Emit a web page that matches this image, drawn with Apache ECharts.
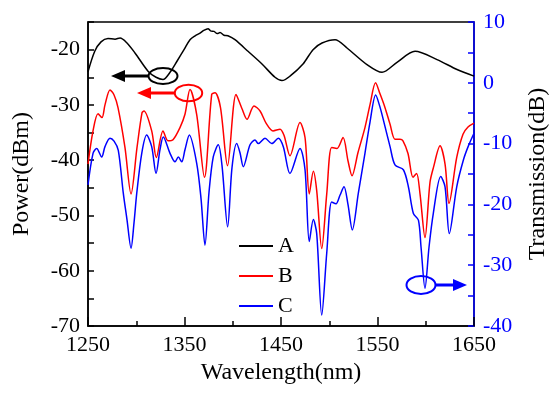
<!DOCTYPE html>
<html>
<head>
<meta charset="utf-8">
<script src="https://cdn.jsdelivr.net/npm/echarts@6/dist/echarts.min.js"></script>
<style>html,body{margin:0;padding:0;background:#fff}#c{width:550px;height:395px}</style>
</head>
<body>
<div id="c"></div>
<script>
var xTickLabels = ['1250','1350','1450','1550','1650'];
var seriesNames = ['A','B','C'];

var aWl  = [1250,1257,1263.5,1270.7,1278,1283.2,1290.4,1298.7,1312.2,1320.5,1327.7,1335,1342.2,1349.5,1355.7,1361,1366.1,1370,1374.4,1377,1380.6,1384,1386.8,1391,1395,1402.3,1415.8,1430.3,1443.8,1451,1459.3,1472.8,1483.2,1492.5,1506,1518.4,1539.1,1554.7,1570.2,1588.9,1611.7,1632.4,1650];
var aPow = [-24.0,-20.3,-18.6,-18.0,-18.1,-17.9,-18.8,-20.6,-23.9,-25.0,-25.4,-24.1,-22.1,-20.0,-18.2,-17.5,-17.0,-16.5,-16.2,-16.6,-16.7,-17.1,-16.9,-17.4,-17.5,-18.2,-20.3,-22.6,-25.0,-25.6,-24.8,-22.6,-20.0,-18.8,-18.2,-19.7,-22.7,-24.1,-22.3,-20.3,-21.8,-23.6,-24.8];

var bWl  = [1250,1255.2,1260.4,1264.5,1267.6,1272.8,1277,1281.1,1288.3,1294.6,1300.8,1306,1308,1316,1320.8,1327.7,1332.9,1338.1,1345.3,1350.5,1355.7,1362.6,1370.7,1378.2,1381.6,1387.3,1394.6,1403.4,1409.6,1414.8,1422,1428.3,1434.5,1441.7,1449,1453.1,1459.3,1469.7,1474.9,1479.3,1483.5,1487,1492.2,1497.4,1502.5,1508,1514.3,1519.4,1523.6,1529.8,1537,1542.2,1548,1552.6,1557.8,1563,1568.1,1573.3,1576.4,1581.6,1586.8,1590.5,1594,1599.2,1604.4,1608,1614.8,1620,1624.1,1632.1,1638.6,1643.8,1650];
var bPow = [-40.7,-34.7,-31.6,-32.3,-30.0,-27.3,-28.2,-30.5,-37.7,-46.1,-37.7,-31.4,-31.1,-34.7,-39.5,-34.7,-36.5,-36.3,-34.1,-31.7,-27.2,-31.7,-43.1,-28.1,-27.8,-30.5,-41.0,-28.1,-30.7,-32.6,-30.2,-31.1,-33.3,-34.7,-34.4,-35.5,-39.2,-33.2,-35.9,-46.1,-42.0,-45.5,-56.0,-46.1,-37.7,-37.9,-35.9,-40.1,-42.8,-38.6,-34.1,-30.0,-26.0,-28.0,-30.5,-33.5,-36.2,-36.2,-36.5,-38.8,-43.1,-42.4,-46.0,-54.0,-44.0,-41.3,-37.4,-40.7,-47.8,-39.5,-35.3,-34.0,-33.3];

var cWl = [1250,1255.2,1259,1264.2,1267.6,1272.8,1277,1281.4,1286.6,1290.4,1294.6,1297.7,1300.5,1305.7,1310.8,1316,1320.5,1324.6,1328,1335,1340.2,1343.6,1347.1,1350.5,1355,1362.6,1367.1,1371.2,1375.4,1379.8,1385,1388.8,1394.7,1399.2,1404.1,1407.5,1410.9,1417.9,1423,1426.5,1433.4,1440.4,1447.2,1452.4,1459.3,1469.7,1474.9,1479.3,1483.5,1487,1492.2,1497.4,1502.5,1507,1511.1,1515.3,1519.4,1523.9,1530.1,1537,1542.2,1548.1,1552.6,1557.8,1563,1568.1,1576.8,1582,1587.2,1592.4,1595.1,1599.2,1603.4,1607.8,1615.5,1620,1624.4,1632.1,1639,1643.9,1650];
var cTr = [-16.8,-11.6,-10.8,-12.2,-10.5,-9.1,-9.6,-11.1,-18.2,-22.5,-27.2,-23.0,-18.2,-11.6,-8.6,-10.5,-14.9,-11.0,-8.9,-11.6,-13.0,-12.2,-13.0,-11.0,-8.6,-13.2,-19.0,-26.7,-18.0,-12.2,-10.2,-13.5,-23.7,-14.0,-10.0,-11.5,-13.8,-10.2,-9.4,-10.0,-9.1,-10.0,-9.1,-10.5,-14.9,-10.8,-14.3,-26.1,-22.5,-24.8,-38.2,-28.0,-19.6,-19.9,-18.5,-17.1,-20.0,-24.2,-18.2,-11.6,-6.5,-2.0,-4.0,-7.2,-10.5,-13.5,-14.3,-17.1,-21.5,-22.6,-27.0,-33.8,-27.0,-21.5,-15.4,-17.1,-24.8,-17.1,-12.7,-10.5,-8.3];

function pairs(xs, ys){ return xs.map(function(x,i){ return [x, ys[i]]; }); }

var FONT = 'Liberation Serif';
var chart = echarts.init(document.getElementById('c'), null, {renderer:'canvas'});
var option = {
  animation: false,
  backgroundColor: '#fff',
  grid: {left: 88, right: 76, top: 22, bottom: 69, outerBoundsMode: 'none', containLabel: false,
         show: true, borderColor: '#000', borderWidth: 1.5, backgroundColor: 'transparent'},
  legend: {
    data: seriesNames.map(function(n){ return {name: n, icon: 'rect'}; }),
    orient: 'vertical', left: 234, top: 229,
    itemWidth: 34, itemHeight: 2, itemGap: 6,
    textStyle: {fontFamily: FONT, fontSize: 22, color: '#000', lineHeight: 24}
  },
  xAxis: [
    {type: 'value', min: 1250, max: 1650, interval: 50, position: 'bottom',
     axisLine: {show: true, onZero: false, lineStyle: {color: '#000', width: 1.5}},
     axisTick: {show: true, inside: true, length: 5, lineStyle: {color: '#000', width: 1.5}},
     axisLabel: {show: false}, splitLine: {show: false},
     name: 'Wavelength(nm)', nameLocation: 'middle', nameGap: 35,
     nameTextStyle: {fontFamily: FONT, fontSize: 24, color: '#000'}},
    {type: 'category', data: xTickLabels, boundaryGap: false, position: 'bottom',
     axisLine: {show: false, onZero: false}, axisTick: {show: true, inside: true, length: 9, lineStyle: {color: '#000', width: 1.5}},
     axisLabel: {fontFamily: FONT, fontSize: 22, color: '#000', margin: 8}, splitLine: {show: false}}
  ],
  yAxis: [
    {type: 'value', min: -70, max: -15, interval: 10, position: 'left',
     axisLine: {show: true, onZero: false, lineStyle: {color: '#000', width: 1.5}},
     axisTick: {show: true, inside: true, length: 6, lineStyle: {color: '#000', width: 1.5}},
     minorTick: {show: true, splitNumber: 2, length: 6, lineStyle: {color: '#000', width: 1.5}},
     axisLabel: {fontFamily: FONT, fontSize: 22, color: '#000', margin: 8, showMaxLabel: false},
     splitLine: {show: false},
     name: 'Power(dBm)', nameLocation: 'middle', nameGap: 54, nameRotate: 90,
     nameTextStyle: {fontFamily: FONT, fontSize: 24, color: '#000'}},
    {type: 'value', min: -40, max: 10, interval: 10, position: 'right',
     axisLine: {show: true, onZero: false, lineStyle: {color: '#0000ff', width: 1.5}},
     axisTick: {show: true, inside: true, length: 6, lineStyle: {color: '#0000ff', width: 1.5}},
     minorTick: {show: true, splitNumber: 2, length: 6, lineStyle: {color: '#0000ff', width: 1.5}},
     axisLabel: {fontFamily: FONT, fontSize: 22, color: '#0000ff', margin: 9},
     splitLine: {show: false},
     name: 'Transmission(dB)', nameLocation: 'middle', nameGap: 52, nameRotate: 90,
     nameTextStyle: {fontFamily: FONT, fontSize: 24, color: '#000'}}
  ],
  series: [
    {name: 'A', type: 'line', xAxisIndex: 0, yAxisIndex: 0, data: pairs(aWl, aPow), symbol: 'none', smooth: 0.3,
     lineStyle: {color: '#000', width: 1.5}, itemStyle: {color: '#000'}},
    {name: 'B', type: 'line', xAxisIndex: 0, yAxisIndex: 0, data: pairs(bWl, bPow), symbol: 'none', smooth: 0.3,
     lineStyle: {color: '#ff0000', width: 1.5}, itemStyle: {color: '#ff0000'}},
    {name: 'C', type: 'line', xAxisIndex: 0, yAxisIndex: 1, data: pairs(cWl, cTr), symbol: 'none', smooth: 0.3,
     lineStyle: {color: '#0000ff', width: 1.5}, itemStyle: {color: '#0000ff'}}
  ],
  graphic: [
    {type: 'ellipse', shape: {cx: 163, cy: 76, rx: 14.5, ry: 8}, style: {fill: 'none', stroke: '#000', lineWidth: 2}, z: 100},
    {type: 'line', shape: {x1: 149, y1: 76, x2: 122, y2: 76}, style: {stroke: '#000', lineWidth: 3}, z: 100},
    {type: 'polygon', shape: {points: [[111,76],[125,70],[125,82]]}, style: {fill: '#000'}, z: 100},
    {type: 'ellipse', shape: {cx: 188.5, cy: 93, rx: 13.7, ry: 8.3}, style: {fill: 'none', stroke: '#ff0000', lineWidth: 2}, z: 100},
    {type: 'line', shape: {x1: 175, y1: 93, x2: 148, y2: 93}, style: {stroke: '#ff0000', lineWidth: 3}, z: 100},
    {type: 'polygon', shape: {points: [[137,93],[151,87],[151,99]]}, style: {fill: '#ff0000'}, z: 100},
    {type: 'ellipse', shape: {cx: 421, cy: 285, rx: 14.5, ry: 9}, style: {fill: 'none', stroke: '#0000ff', lineWidth: 2}, z: 100},
    {type: 'line', shape: {x1: 435.5, y1: 285, x2: 456, y2: 285}, style: {stroke: '#0000ff', lineWidth: 3}, z: 100},
    {type: 'polygon', shape: {points: [[467,285],[453,279],[453,291]]}, style: {fill: '#0000ff'}, z: 100}
  ]
};
chart.setOption(option);
</script>
</body>
</html>
